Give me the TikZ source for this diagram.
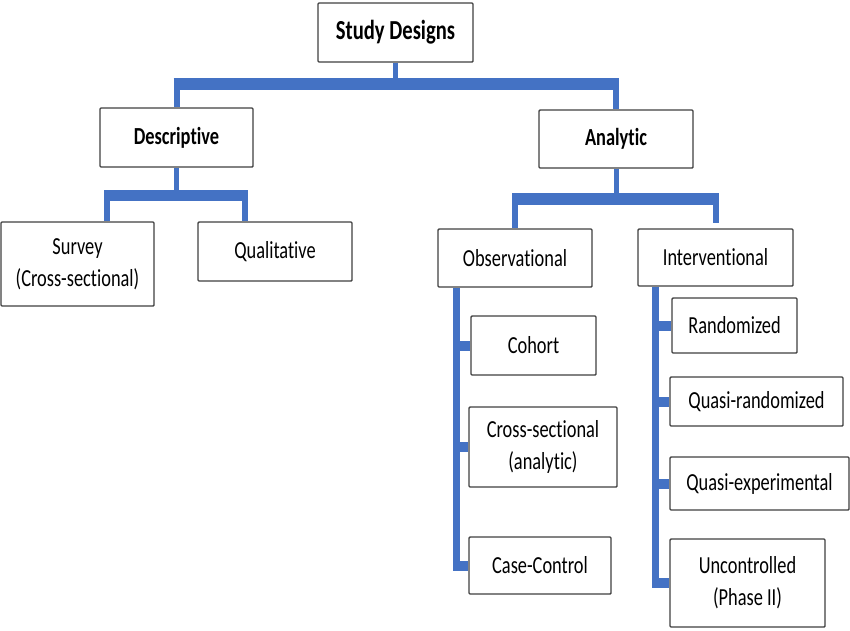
\documentclass[tikz,border=0pt]{standalone}
\usepackage{fontspec}
\setmainfont{Carlito}[FakeStretch=0.75, Ligatures=NoCommon]
\usetikzlibrary{calc}
\definecolor{lineblue}{HTML}{4472C4}
\definecolor{boxgray}{HTML}{404040}
\pgfdeclarelayer{bg}
\pgfsetlayers{bg,main}
\begin{document}
\begin{tikzpicture}[x=1pt,y=-1pt,
  box/.style={draw=boxgray, line width=1.4pt, fill=white, rounded corners=1pt,
    inner sep=0pt, align=center, font=\fontsize{24.5}{32}\selectfont},
  boldbox/.style={box, font=\fontsize{24.5}{32}\selectfont\bfseries},
  bar/.style={draw=lineblue, line width=12pt},
  subbar/.style={draw=lineblue, line width=11pt},
  drop/.style={draw=lineblue, line width=6pt},
  stem/.style={draw=lineblue, line width=5pt},
  vline/.style={draw=lineblue, line width=7pt},
  tick/.style={draw=lineblue, line width=10pt}]
\useasboundingbox (0,0) rectangle (850,630);

% boxes
\node[boldbox, font=\fontsize{27.5}{32}\selectfont\bfseries,
  minimum width=155pt, minimum height=59pt] (study) at (395.5,32.5) {Study Designs};
\node[boldbox, minimum width=153pt, minimum height=59pt] (desc) at (176.5,137.5) {Descriptive};
\node[boldbox, minimum width=154pt, minimum height=58pt] (anal) at (616,139) {Analytic};
\node[box, minimum width=153pt, minimum height=84pt] (survey) at (77.5,264) {Survey\\(Cross-sectional)};
\node[box, minimum width=154pt, minimum height=59pt] (qual) at (275,251.5) {\raisebox{3pt}{Qualitative}};
\node[box, minimum width=154pt, minimum height=58pt] (obs) at (515,258) {Observational};
\node[box, minimum width=155pt, minimum height=57pt] (interv) at (715.5,257.5) {Interventional};
\node[box, minimum width=125pt, minimum height=59pt] (cohort) at (533.5,345.5) {Cohort};
\node[box, minimum width=148pt, minimum height=80pt] (cross) at (543,447) {Cross-sectional\\(analytic)};
\node[box, minimum width=142pt, minimum height=57pt] (casec) at (540,565.5) {Case-Control};
\node[box, minimum width=125pt, minimum height=55pt] (rand) at (734.5,325.5) {Randomized};
\node[box, minimum width=173pt, minimum height=49pt] (qrand) at (756.5,401.5) {Quasi-randomized};
\node[box, minimum width=179pt, minimum height=53pt] (qexp) at (759.5,483.5) {Quasi-experimental};
\node[box, minimum width=155pt, minimum height=88pt] (unc) at (747.5,583) {Uncontrolled\\(Phase II)};

% connectors
\coordinate (tb1) at (173.5,84);
\coordinate (tb2) at (619,84);
\coordinate (db1) at (104,195.5);
\coordinate (db2) at (248,195.5);
\coordinate (ds1) at (107,195.5);
\coordinate (ds2) at (245,195.5);
\coordinate (ab1) at (512,198.5);
\coordinate (ab2) at (718.5,198.5);
\coordinate (ov) at (456,0);
\coordinate (iv) at (655,0);

\begin{pgfonlayer}{bg}
  % level 1
  \draw[bar] (tb1) -- (tb2);
  \draw[stem] (study.south) -- (study.south |- tb1);
  \draw[drop] (desc.north |- tb1) -- (desc.north);
  \draw[drop] (anal.north |- tb2) -- (anal.north);
  % descriptive branch
  \draw[subbar] (db1) -- (db2);
  \draw[stem] (desc.south) -- (desc.south |- db1);
  \draw[drop] (ds1) -- (ds1 |- survey.north);
  \draw[drop] (ds2) -- (ds2 |- qual.north);
  % analytic branch
  \draw[bar] (ab1) -- (ab2);
  \draw[stem] (anal.south) -- (anal.south |- ab1);
  \draw[drop] (obs.north |- ab1) -- (obs.north);
  \draw[drop] (interv.north |- ab2) -- ($(interv.north)+(0,-5)$);
  % observational list
  \draw[vline] (ov |- obs.south) -- ($(ov |- casec.west)+(0,5)$);
  \draw[tick] (ov |- cohort.west) -- (cohort.west);
  \draw[tick] (ov |- cross.west) -- (cross.west);
  \draw[tick] (ov |- casec.west) -- (casec.west);
  % interventional list
  \draw[vline] (iv |- interv.south) -- ($(iv |- unc.west)+(0,5)$);
  \draw[tick] (iv |- rand.west) -- (rand.west);
  \draw[tick] (iv |- qrand.west) -- (qrand.west);
  \draw[tick] (iv |- qexp.west) -- (qexp.west);
  \draw[tick] (iv |- unc.west) -- (unc.west);
\end{pgfonlayer}
\end{tikzpicture}
\end{document}
